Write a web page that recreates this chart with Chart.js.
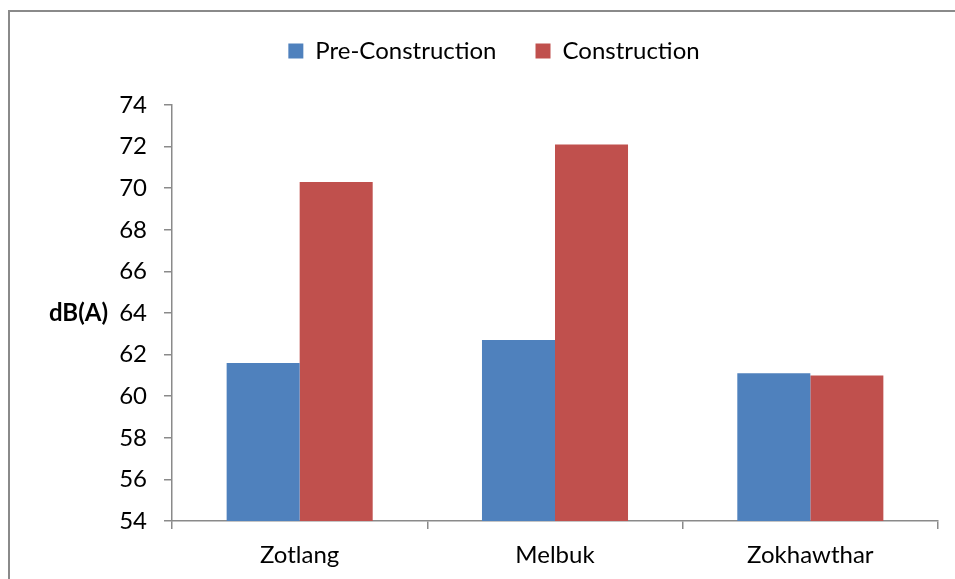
<!DOCTYPE html>
<html>
<head>
<meta charset="utf-8">
<title>Noise levels</title>
<script src="https://cdn.jsdelivr.net/npm/chart.js@4/dist/chart.umd.min.js"></script>
<style>
  html, body { margin: 0; padding: 0; background: #fff; }
  canvas { display: block; }
</style>
</head>
<body>
<canvas id="chart" width="955" height="579"></canvas>
<script>
// Monitoring sites and measured noise levels, dB(A)
const sites = ['Zotlang', 'Melbuk', 'Zokhawthar'];
const preConstruction = [61.6, 62.7, 61.1];
const construction = [70.3, 72.1, 61.0];
const seriesNames = ['Pre-Construction', 'Construction'];
const yRange = [54, 74];
const yStep = [2];
const yTitle = 'dB(A)';

const FONT = 'Lato';
const AXIS_GREY = '#8a8a8a';

// Outer frame of the chart object
const frame = {
  id: 'frame',
  beforeDraw(chart) {
    const { ctx, width, height } = chart;
    ctx.save();
    ctx.fillStyle = '#fff';
    ctx.fillRect(0, 0, width, height);
    ctx.strokeStyle = '#8a8a8a';
    ctx.lineWidth = 2;
    ctx.strokeRect(9, 11, width + 20, height + 20);
    ctx.restore();
  }
};

// Fixed band for the legend above the plot, nudged right of centre
const legendBand = {
  id: 'legendBand',
  beforeInit(chart) {
    const fit = chart.legend.fit;
    chart.legend.fit = function () {
      fit.call(this);
      this.height = 105;
    };
  },
  afterLayout(chart) {
    chart.legend.left += 25;
    chart.legend.right += 25;
  }
};

// Horizontal value-axis title to the left of the tick labels
const axisTitle = {
  id: 'axisTitle',
  afterDraw(chart) {
    const { ctx, chartArea } = chart;
    ctx.save();
    ctx.font = 'bold 24px ' + FONT;
    ctx.fillStyle = '#000';
    ctx.textAlign = 'right';
    ctx.textBaseline = 'middle';
    ctx.fillText(yTitle, 108, (chartArea.top + chartArea.bottom) / 2);
    ctx.restore();
  }
};

new Chart(document.getElementById('chart'), {
  type: 'bar',
  data: {
    labels: sites,
    datasets: [
      {
        label: seriesNames[0],
        data: preConstruction,
        backgroundColor: '#4f81bd',
        borderWidth: 0
      },
      {
        label: seriesNames[1],
        data: construction,
        backgroundColor: '#c0504d',
        borderWidth: 0
      }
    ]
  },
  options: {
    responsive: false,
    animation: false,
    devicePixelRatio: 1,
    layout: { padding: { left: 0, right: 17, top: 0, bottom: 0 } },
    datasets: {
      bar: { categoryPercentage: 0.572, barPercentage: 1.0 }
    },
    plugins: {
      legend: {
        position: 'top',
        labels: {
          boxWidth: 15,
          boxHeight: 15,
          padding: 39,
          color: '#000',
          font: { family: FONT, size: 24 }
        }
      },
      tooltip: { enabled: false }
    },
    scales: {
      x: {
        grid: {
          display: true,
          drawOnChartArea: false,
          drawTicks: true,
          tickLength: 8,
          color: AXIS_GREY,
          lineWidth: 1.5
        },
        border: { display: true, color: AXIS_GREY, width: 1.5 },
        ticks: {
          color: '#000',
          padding: 12,
          font: { family: FONT, size: 24 }
        },
        afterFit(scale) { scale.height = 58; }
      },
      y: {
        min: yRange[0],
        max: yRange[1],
        grid: {
          display: true,
          drawOnChartArea: false,
          drawTicks: true,
          tickLength: 8,
          color: AXIS_GREY,
          lineWidth: 1.5
        },
        border: { display: true, color: AXIS_GREY, width: 1.5 },
        ticks: {
          stepSize: yStep[0],
          color: '#000',
          padding: 17,
          font: { family: FONT, size: 24 }
        },
        afterFit(scale) { scale.width = 172; }
      }
    }
  },
  plugins: [frame, legendBand, axisTitle]
});
</script>
</body>
</html>
